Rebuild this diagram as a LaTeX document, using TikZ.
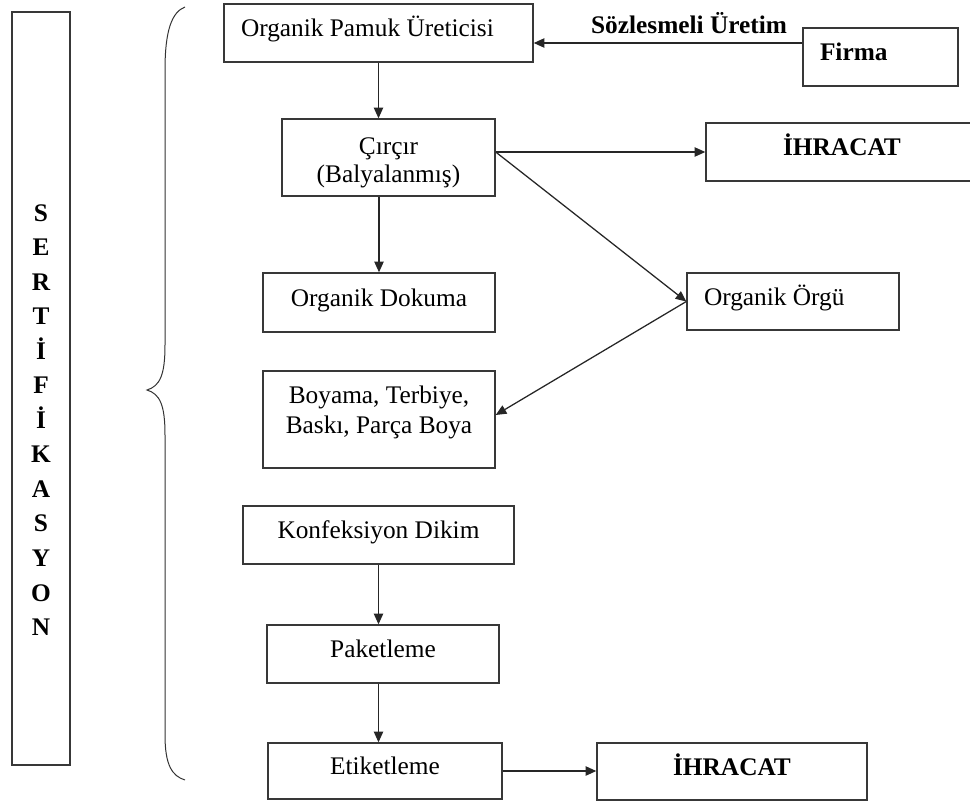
\documentclass[tikz,border=0pt]{standalone}
\usepackage{fontspec}
\setmainfont{Liberation Serif}
\usetikzlibrary{arrows.meta,calc}
\begin{document}
\begin{tikzpicture}[x=0.75pt,y=-0.75pt,
  box/.style={draw=black!78, line width=1.05pt, inner sep=0pt, align=center,
    font=\fontsize{19}{22}\selectfont, text height=9.5pt, text depth=4.2pt},
  bold/.style={font=\fontsize{19}{22}\selectfont\bfseries},
  arr/.style={draw=black!85, line width=0.95pt, -{Triangle[length=8pt,width=7pt]}},
  bracestyle/.style={draw=black!80, line width=0.75pt},
]
\useasboundingbox (0,0) rectangle (970,803);

% certification column
\node[box, minimum width=43.5pt, minimum height=564.75pt] (sert) at (41,388.5) {};
\node[font=\fontsize{19}{25.9}\selectfont\bfseries, align=center, inner sep=0pt] (sertt) at (41,420)
  {S\\E\\R\\T\\İ\\F\\İ\\K\\A\\S\\Y\\O\\N};

% brace
\draw[bracestyle] (185,7) .. controls (172,12) and (165,30) .. (165,70) -- (165,345)
  .. controls (165,375) and (160,386) .. (147,390)
  .. controls (160,394) and (165,405) .. (165,435) -- (165,735)
  .. controls (165,765) and (172,776) .. (185,780);

% boxes
\node[box, minimum width=231.75pt, minimum height=43.5pt, align=flush left, text width=206.25pt] (b1) at (378.5,33) {Organik Pamuk Üreticisi};
\node[box, bold, minimum width=116.25pt, minimum height=43.5pt, align=flush left, text width=90.75pt] (firma) at (880.5,57) {Firma};
\node[box, minimum width=159.75pt, minimum height=57.75pt, font=\fontsize{19}{21}\selectfont, text height=40pt, text depth=3.25pt] (cir) at (388.5,157.5) {Çırçır\\(Balyalanmış)};
\node[box, bold, minimum width=204pt, minimum height=43.5pt] (ih1) at (842,152) {İHRACAT};
\node[box, minimum width=174pt, minimum height=44.25pt] (dok) at (379,302.5) {Organik Dokuma};
\node[box, minimum width=159pt, minimum height=42.75pt, align=flush left, text width=133.5pt] (org) at (793,301.5) {Organik Örgü};
\node[box, minimum width=174pt, minimum height=72.75pt, font=\fontsize{19}{22.5}\selectfont, text height=24.5pt, text depth=4.25pt] (boy) at (379,419.5) {Boyama, Terbiye,\\Baskı, Parça Boya};
\node[box, minimum width=203.25pt, minimum height=43.5pt] (konf) at (378.5,535) {Konfeksiyon Dikim};
\node[box, minimum width=174pt, minimum height=43.5pt] (pak) at (383,654) {Paketleme};
\node[box, minimum width=175.5pt, minimum height=42pt] (etk) at (385,771) {Etiketleme};
\node[box, bold, minimum width=202.5pt, minimum height=42.75pt] (ih2) at (732,771.5) {İHRACAT};

% label
\node[bold, anchor=base, inner sep=0pt] (soz) at (689,33) {Sözlesmeli Üretim};

% connectors
\coordinate (fa) at ([yshift=10.5pt]firma.west);
\draw[arr] (fa) -- (fa -| b1.east);
\draw[arr] (b1.south) -- (b1.south |- cir.north);
\coordinate (cs) at (cir.east |- ih1.west);
\draw[arr] (cs) -- (ih1.west);
\draw[arr] (cs) -- (org.west);
\draw[arr] (cir.south -| dok.north) -- (dok.north);
\draw[arr] (org.west) -- ([yshift=3.4pt]boy.east);
\draw[arr] (konf.south) -- (konf.south |- pak.north);
\draw[arr] (konf.south |- pak.south) -- (konf.south |- etk.north);
\draw[arr] (etk.east) -- (etk.east -| ih2.west);
\end{tikzpicture}
\end{document}
